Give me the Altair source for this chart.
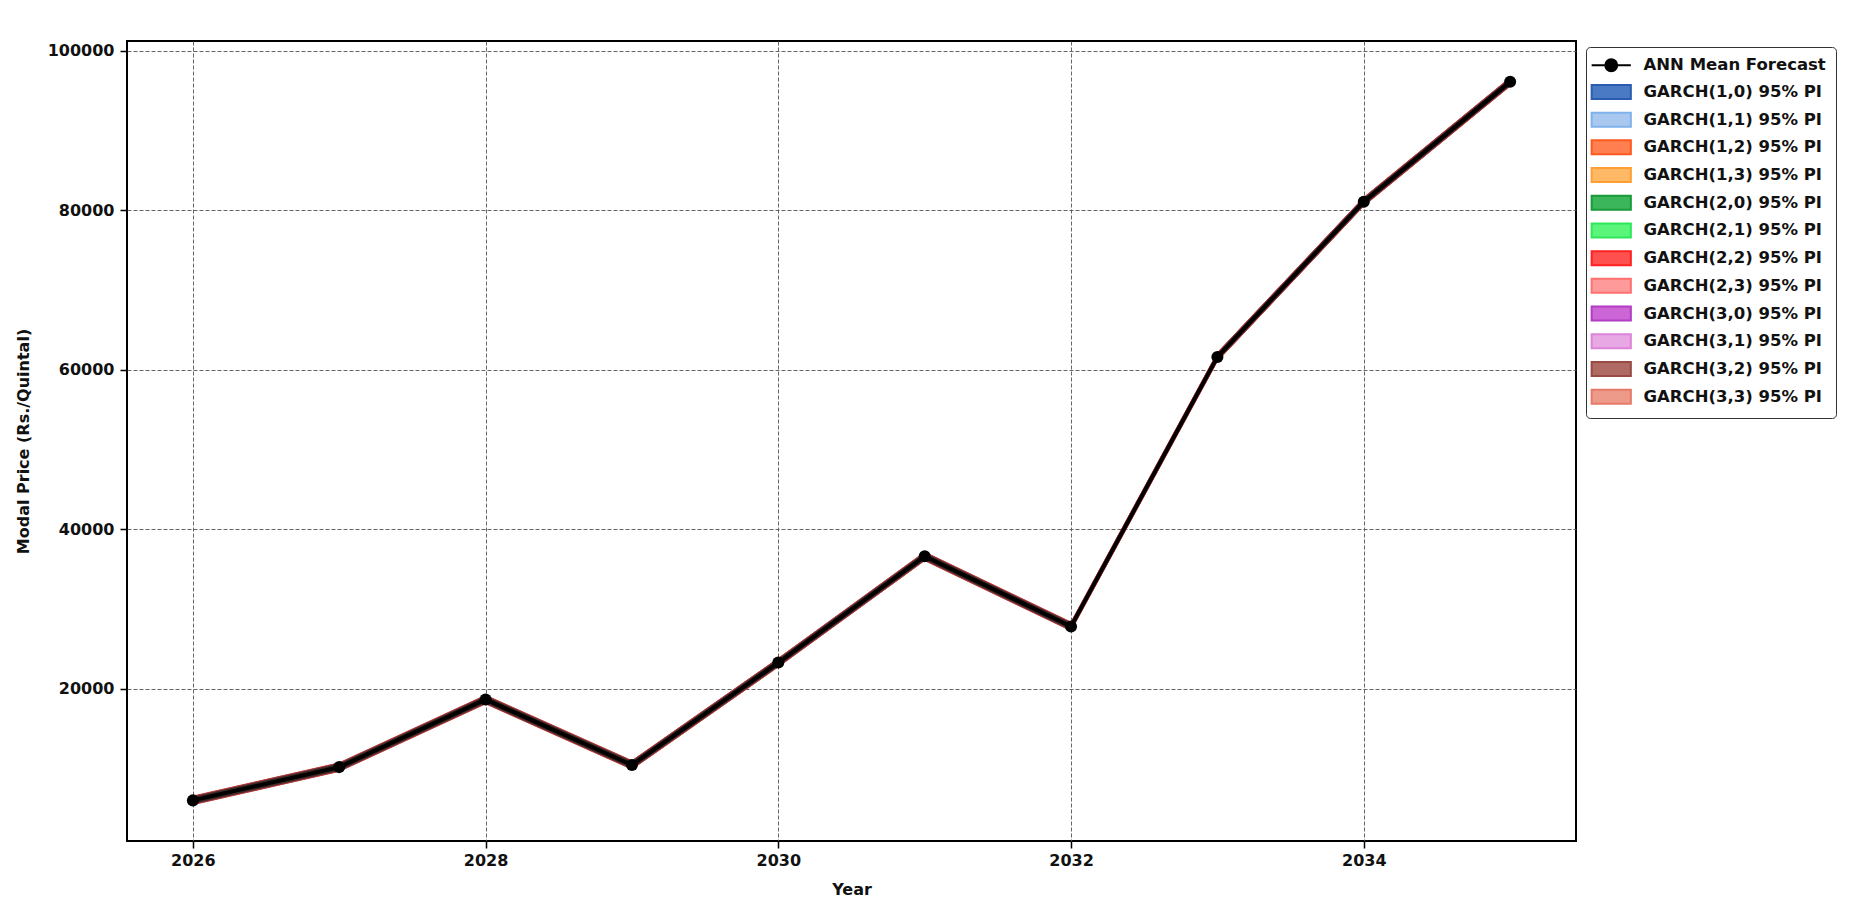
import altair as alt
import pandas as pd

# ---------------- data ----------------
years = [2026, 2027, 2028, 2029, 2030, 2031, 2032, 2033, 2034, 2035]
ann_mean = [6030, 10200, 18670, 10470, 23300, 36620, 27830, 61610, 81060, 96080]
ann_label = "ANN Mean Forecast"

garch_models = [
    "GARCH(1,0) 95% PI", "GARCH(1,1) 95% PI", "GARCH(1,2) 95% PI", "GARCH(1,3) 95% PI",
    "GARCH(2,0) 95% PI", "GARCH(2,1) 95% PI", "GARCH(2,2) 95% PI", "GARCH(2,3) 95% PI",
    "GARCH(3,0) 95% PI", "GARCH(3,1) 95% PI", "GARCH(3,2) 95% PI", "GARCH(3,3) 95% PI",
]
# half-width of each model's 95% prediction interval (Rs./Quintal)
garch_half_width = [470, 500, 440, 520, 460, 490, 540, 480, 450, 510, 550, 530]

garch_fill = ["#4a7ac4", "#a8c8f0", "#ff7f50", "#ffb866", "#3cb65a", "#5af57a",
              "#ff5050", "#ff9a9a", "#cc66d6", "#e8a8e4", "#b06a64", "#ee9a8a"]
garch_edge = ["#2a5db0", "#7fb2ea", "#ff5a1f", "#ff9f33", "#1a9a3a", "#2ee85a",
              "#ff2020", "#ff7070", "#b23cc4", "#dc84d8", "#9a4a44", "#e57a68"]

x_ticks = [2026, 2028, 2030, 2032, 2034]
y_ticks = [20000, 40000, 60000, 80000, 100000]
x_domain = [2025.55, 2035.45]
y_domain = [940, 101200]


def darken(hex_color, k):
    r, g, b = (int(hex_color[i:i + 2], 16) for i in (1, 3, 5))
    return "#%02x%02x%02x" % (int(r * k), int(g * k), int(b * k))


# ---------------- tables ----------------
ann_df = pd.DataFrame({"Year": years, "Value": ann_mean, "series": ann_label})

band_rows = []
for model, hw in zip(garch_models, garch_half_width):
    for yr, m in zip(years, ann_mean):
        band_rows.append({"Year": yr, "lower": m - hw, "upper": m + hw,
                          "Value": m, "series": model})
band_df = pd.DataFrame(band_rows)
key_df = pd.concat([ann_df, band_df[["Year", "Value", "series"]]], ignore_index=True)

series_all = [ann_label] + garch_models
# legend (key) scales
fill_scale = alt.Scale(domain=series_all, range=["#000000"] + garch_fill)
stroke_scale = alt.Scale(domain=series_all, range=["#000000"] + garch_edge)
ANN_PATH = "M-2.8,0H2.8M-0.85,0A0.85,0.85,0,1,0,0.85,0A0.85,0.85,0,1,0,-0.85,0Z"
BOX_PATH = "M-2.8,-1H2.8V1H-2.8Z"
shape_scale = alt.Scale(domain=series_all, range=[ANN_PATH] + [BOX_PATH] * len(garch_models))
# band colour scale (overlapping translucent bands read as a dark halo in the plot)
band_color_scale = alt.Scale(domain=garch_models, range=[darken(c, 0.28) for c in garch_fill])

legend = alt.Legend(
    title=None,
    orient="none",
    legendX=1459,
    legendY=6,
    padding=10,
    strokeColor="#333333",
    fillColor="#ffffff",
    cornerRadius=4,
    labelFont="DejaVu Sans",
    labelFontWeight="bold",
    labelFontSize=16.5,
    labelColor="#111111",
    labelOffset=24,
    symbolOffset=7,
    symbolSize=196,
    symbolStrokeWidth=2,
    symbolOpacity=1,
    rowPadding=4.7,
    labelLimit=400,
)

x_enc = alt.X("Year:Q", scale=alt.Scale(domain=x_domain, nice=False, zero=False),
              axis=alt.Axis(title="Year", values=x_ticks, format="d",
                            labelPadding=4, titlePadding=13))
y_axis = alt.Axis(title="Modal Price (Rs./Quintal)", values=y_ticks, format="d",
                  labelPadding=6, titlePadding=16)
y_scale = alt.Scale(domain=y_domain, nice=False, zero=False)

bands = alt.Chart(band_df).mark_area(
    fillOpacity=0.35, stroke="#d04848", strokeOpacity=0.35, strokeWidth=1
).encode(
    x=x_enc,
    y=alt.Y("lower:Q", scale=y_scale, axis=y_axis),
    y2="upper:Q",
    color=alt.Color("series:N", scale=band_color_scale, legend=None),
)

line = alt.Chart(ann_df).mark_line(strokeWidth=4, color="#000000").encode(
    x=alt.X("Year:Q"),
    y=alt.Y("Value:Q"),
)

points = alt.Chart(ann_df).mark_circle(size=145, opacity=1, color="#000000").encode(
    x=alt.X("Year:Q"),
    y=alt.Y("Value:Q"),
)

# invisible layer that only supplies the legend symbols
key = alt.Chart(key_df).mark_point(filled=True, size=0).encode(
    x=alt.X("Year:Q"),
    y=alt.Y("Value:Q"),
    fill=alt.Fill("series:N", scale=fill_scale, legend=legend),
    stroke=alt.Stroke("series:N", scale=stroke_scale, legend=legend),
    shape=alt.Shape("series:N", scale=shape_scale, legend=legend),
)

chart = alt.layer(bands, line, points, key).properties(
    width=1449,
    height=800,
    autosize=alt.AutoSizeParams(type="none"),
    padding={"left": 119, "top": 33, "right": 270, "bottom": 60},
    background="#ffffff",
).configure_view(
    stroke="#000000", strokeWidth=2
).configure_axis(
    labelFont="DejaVu Sans", labelFontWeight="bold", labelFontSize=16, labelColor="#111111",
    titleFont="DejaVu Sans", titleFontWeight="bold", titleFontSize=16, titleColor="#111111",
    domain=False, tickColor="#000000", tickSize=7, tickWidth=1.5,
    grid=True, gridColor="#555555", gridDash=[4, 2], gridWidth=1, gridOpacity=0.9,
)

chart.save("out.html", embed_options={"renderer": "svg", "actions": False})
